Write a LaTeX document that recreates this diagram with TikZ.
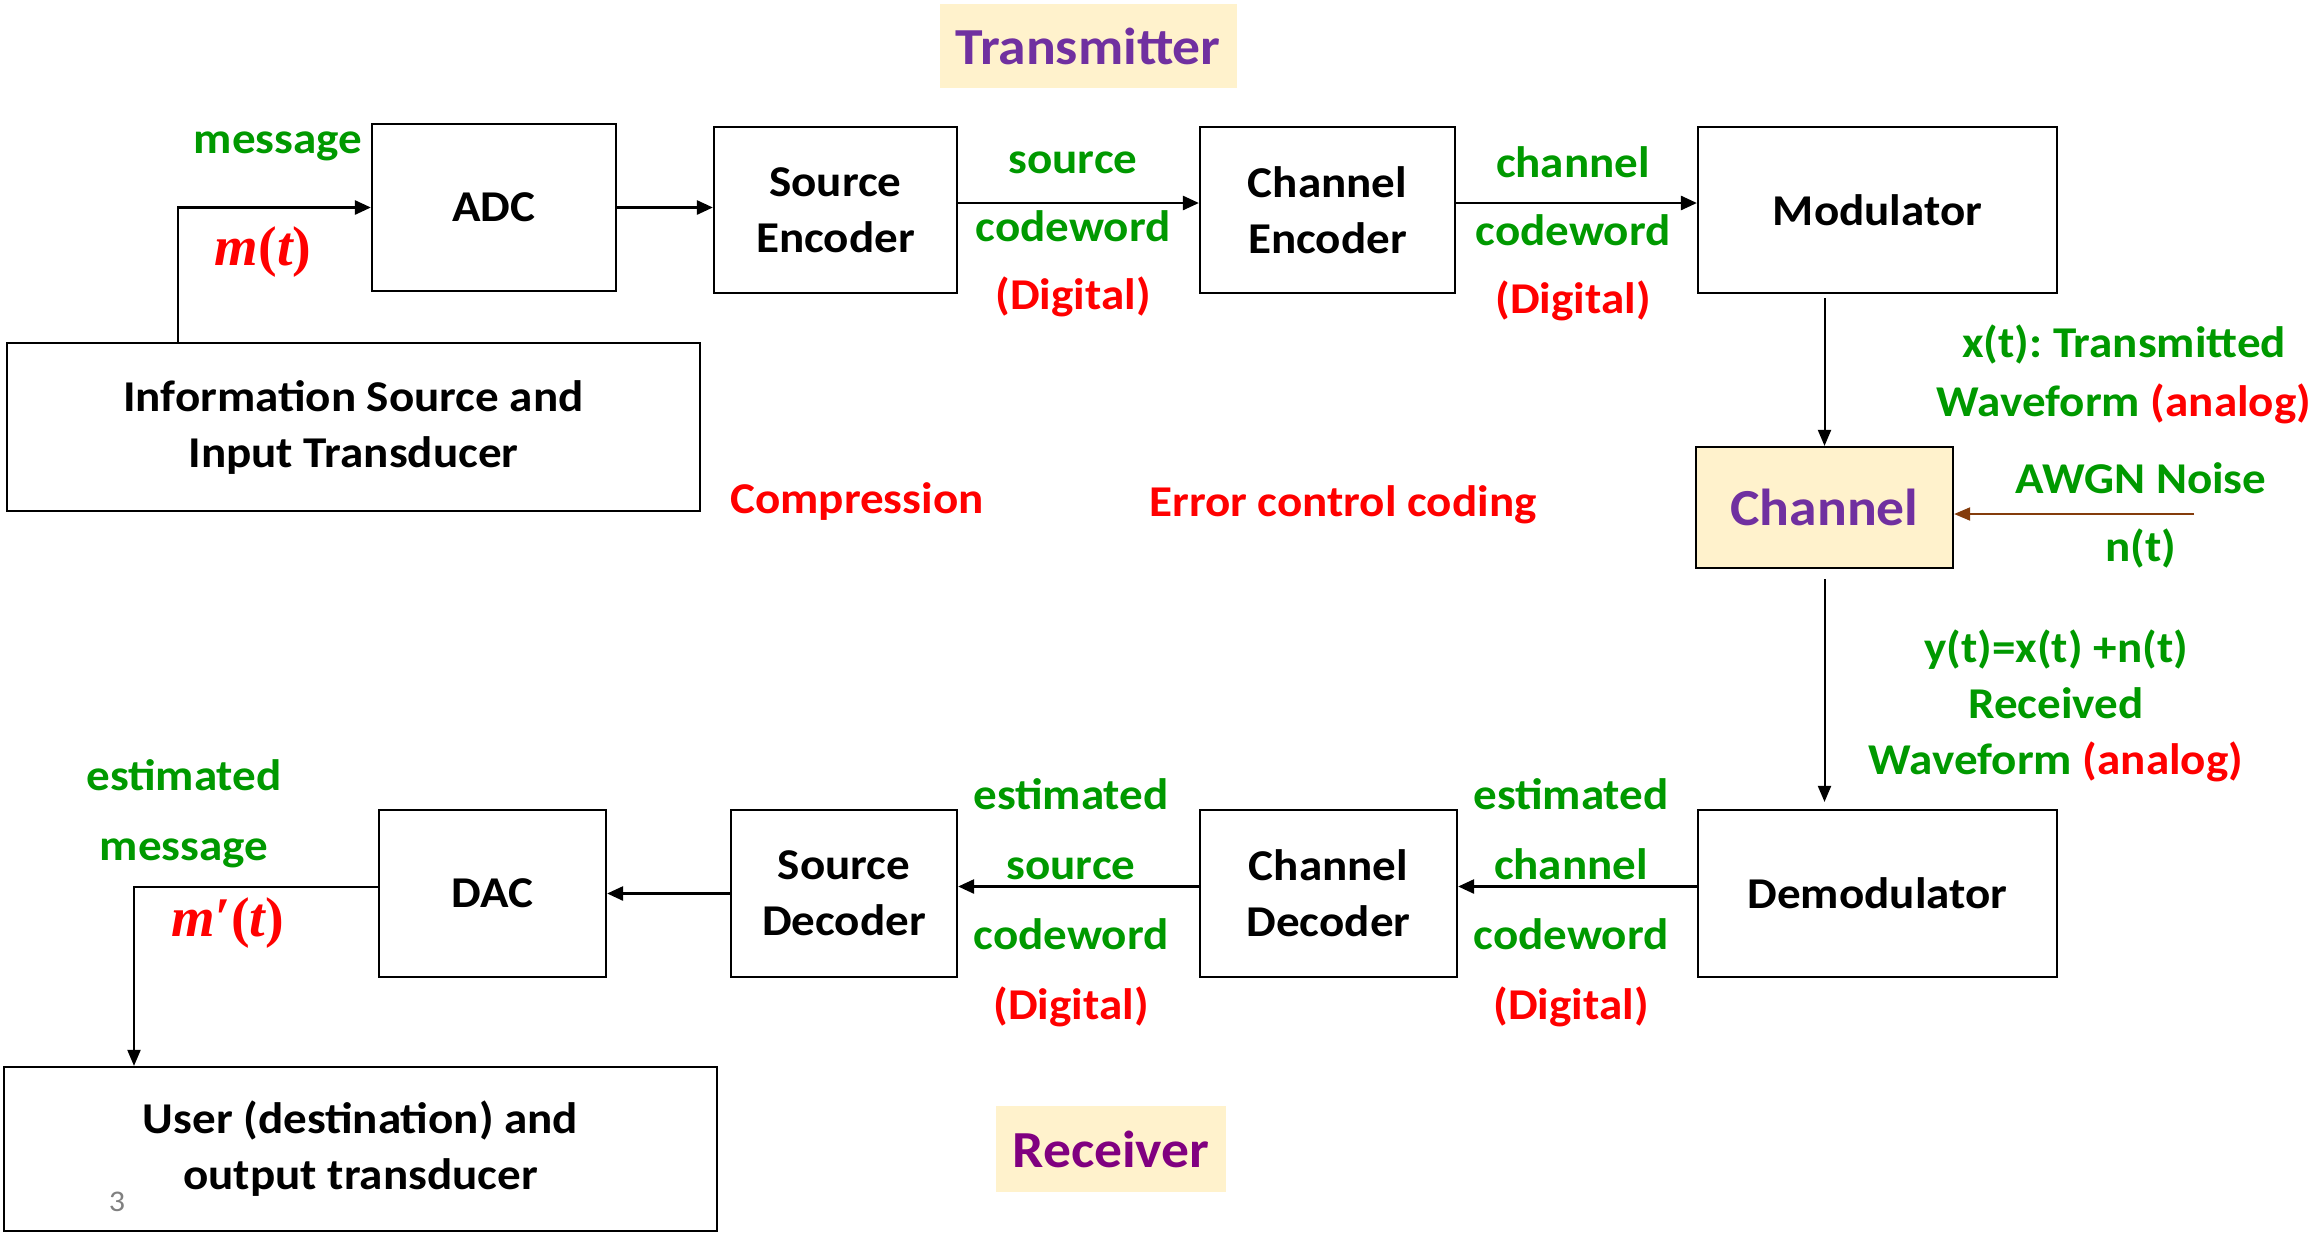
\documentclass[tikz,border=0pt]{standalone}
\usepackage{fontspec}
\setmainfont[FakeStretch=1.07]{Carlito}
\newfontfamily\sigfont{Liberation Serif}
\usetikzlibrary{arrows.meta}
\frenchspacing
\definecolor{lblgreen}{HTML}{009900}
\definecolor{lblred}{HTML}{FF0000}
\definecolor{txpurple}{HTML}{7030A0}
\definecolor{rxpurple}{HTML}{800080}
\definecolor{cream}{HTML}{FFF2CC}
\definecolor{noisebrown}{HTML}{843C0C}
\newcommand{\sigvar}[1]{{\bfseries\itshape #1}}
\tikzstyle{block}=[draw,line width=2.2pt,inner sep=0pt,align=center,font=\bfseries\fontsize{44}{56}\selectfont]
\tikzstyle{hdr}=[inner sep=0pt,align=center,font=\bfseries\fontsize{52}{60}\selectfont]
\tikzstyle{lbl}=[inner sep=0pt,align=center,text=lblgreen,font=\bfseries\fontsize{44}{68}\selectfont]
\tikzstyle{sig}=[inner sep=0pt,text=lblred,font=\sigfont\bfseries\fontsize{56}{60}\selectfont]
\tikzstyle{arr}=[draw,line width=2.6pt,-{Triangle[length=16pt,width=14pt]}]
\tikzstyle{varr}=[draw,line width=2pt,-{Triangle[length=16pt,width=13pt]}]

\begin{document}
\begin{tikzpicture}[x=1pt,y=-1pt]
  \useasboundingbox (0,0) rectangle (2321,1232);
  % transmitter side
  \node[hdr,fill=cream,text=txpurple,minimum width=297pt,minimum height=84pt] (tx) at (1088,46) {Transmitter};
  \node[block,minimum width=693pt,minimum height=168pt] (info) at (353.5,427) {Information Source and\\Input Transducer};
  \node[block,minimum width=244pt,minimum height=167pt] (adc) at (494,207.5) {ADC};
  \node[block,minimum width=243pt,minimum height=166pt] (srcenc) at (835.5,210) {Source\\Encoder};
  \node[block,minimum width=255pt,minimum height=166pt] (chenc) at (1327.5,210) {Channel\\Encoder};
  \node[block,minimum width=359pt,minimum height=166pt] (mod) at (1877.5,210) {Modulator};
  \node[block,fill=cream,text=txpurple,font=\bfseries\fontsize{52}{60}\selectfont,minimum width=257pt,minimum height=121pt] (chan) at (1824.5,507.5) {Channel};
  % receiver side
  \node[block,minimum width=359pt,minimum height=167pt] (dem) at (1877.5,893.5) {Demodulator};
  \node[block,minimum width=257pt,minimum height=167pt] (chdec) at (1328.5,893.5) {Channel\\Decoder};
  \node[block,minimum width=226pt,minimum height=167pt] (srcdec) at (844,893.5) {Source\\Decoder};
  \node[block,minimum width=227pt,minimum height=167pt] (dac) at (492.5,893.5) {DAC};
  \node[block,minimum width=713pt,minimum height=164pt] (user) at (360.5,1149) {User (destination) and\\output transducer};
  \node[hdr,fill=cream,text=rxpurple,minimum width=230pt,minimum height=86pt] (rx) at (1111,1149) {Receiver};

  % labels
  \node[lbl] (msg) at (278,146) {message};
  \node[sig] (mt) at (263,252) {\sigvar{m}(\sigvar{t})};
  \node[lbl] (scw) at (1073,234) {source\\codeword\\{\color{lblred}(Digital)}};
  \node[lbl] (ccw) at (1573,234) {channel\\codeword\\{\color{lblred}(Digital)}};
  \node[lbl,font=\bfseries\fontsize{44}{59}\selectfont] (xt) at (2124,374) {x(t): Transmitted\\Waveform {\color{lblred}(analog)}};
  \node[lbl] (awgn) at (2141,478) {AWGN Noise};
  \node[lbl] (nt) at (2141,548) {n(t)};
  \node[lbl,font=\bfseries\fontsize{44}{56}\selectfont] (yt) at (2056,706) {y(t)=x(t) +n(t)\\Received\\Waveform {\color{lblred}(analog)}};
  \node[lbl,text=lblred] (comp) at (857,502) {Compression};
  \node[lbl,text=lblred] (ecc) at (1343,505) {Error control coding};
  \node[lbl,font=\bfseries\fontsize{44}{70}\selectfont] (escw) at (1071,903) {estimated\\source\\codeword\\{\color{lblred}(Digital)}};
  \node[lbl,font=\bfseries\fontsize{44}{70}\selectfont] (eccw) at (1571,903) {estimated\\channel\\codeword\\{\color{lblred}(Digital)}};
  \node[lbl,font=\bfseries\fontsize{44}{70}\selectfont] (emsg) at (184,814) {estimated\\message};
  \node[sig] (mpt) at (228,923) {\sigvar{m}′(\sigvar{t})};
  \node[text=gray,font=\fontsize{30}{30}\selectfont] (pg) at (117,1202) {3};

  % connectors
  \draw[arr] ([xshift=-175.5pt]info.north) |- (adc.west);
  \draw[arr] (adc.east) -- (adc.east -| srcenc.west);
  \draw[arr] ([yshift=7pt]srcenc.east) -- ([yshift=7pt]chenc.west);
  \draw[arr] ([yshift=7pt]chenc.east) -- ([yshift=7pt]mod.west);
  \draw[varr] ([yshift=-4pt]chan.north |- mod.south) -- (chan.north);
  \coordinate (noise) at (2194,514);
  \draw[varr,draw=noisebrown,fill=noisebrown] (noise) -- (noise -| chan.east);
  \draw[varr] ([yshift=-10pt]chan.south) -- ([yshift=7pt]chan.south |- dem.north);
  \draw[arr] ([yshift=7pt]dem.west) -- ([yshift=7pt]chdec.east);
  \draw[arr] ([yshift=7pt]chdec.west) -- ([yshift=7pt]srcdec.east);
  \draw[arr] (srcdec.west) -- (dac.east);
  \draw[varr] ([yshift=7pt]dac.west) -| ([xshift=-226.5pt]user.north);
\end{tikzpicture}
\end{document}
